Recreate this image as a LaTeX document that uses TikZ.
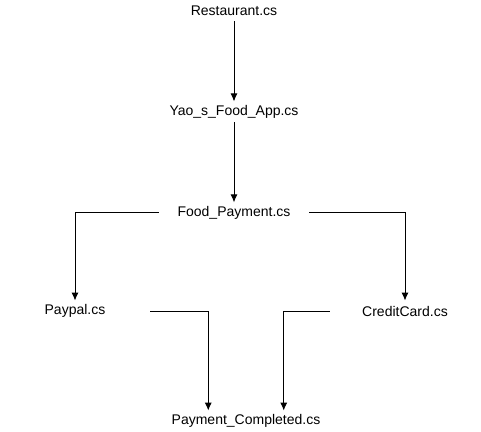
\documentclass[tikz,border=0pt]{standalone}
\usepackage{fontspec}
\setmainfont{Liberation Sans}
\usepackage{tikz}
\usetikzlibrary{positioning}
\usetikzlibrary{calc}
\usetikzlibrary{arrows.meta}

\begin{document}
\begin{tikzpicture}[x=1pt, y=1pt, node distance=80pt, every node/.style={font=\fontsize{14}{16}\selectfont, minimum width=150pt, minimum height=20pt, inner sep=0pt}, >={Latex[length=8pt,width=7pt]}, line width=0.9pt]

\useasboundingbox (0,0) rectangle (481,-431);

\node (rest) at (234,-11) {Restaurant.cs};
\node (app) [below=of rest] {Yao\_s\_Food\_App.cs};
\node (pay) [below=of app] {Food\_Payment.cs};
\node (paypal) at (75,-311) {Paypal.cs};
\node (card) at (405,-311) {CreditCard.cs};
\node (done) at (246,-421) {Payment\_Completed.cs};

\draw[->] (rest) -- (app);
\draw[->] (app) -- (pay);
\draw[->] (pay.west) -| (paypal.north);
\draw[->] (pay.east) -| (card.north);
\draw[->] (paypal.east) -| ($(done.north west)!0.25!(done.north east)$);
\draw[->] (card.west) -| ($(done.north west)!0.75!(done.north east)$);

\end{tikzpicture}
\end{document}
